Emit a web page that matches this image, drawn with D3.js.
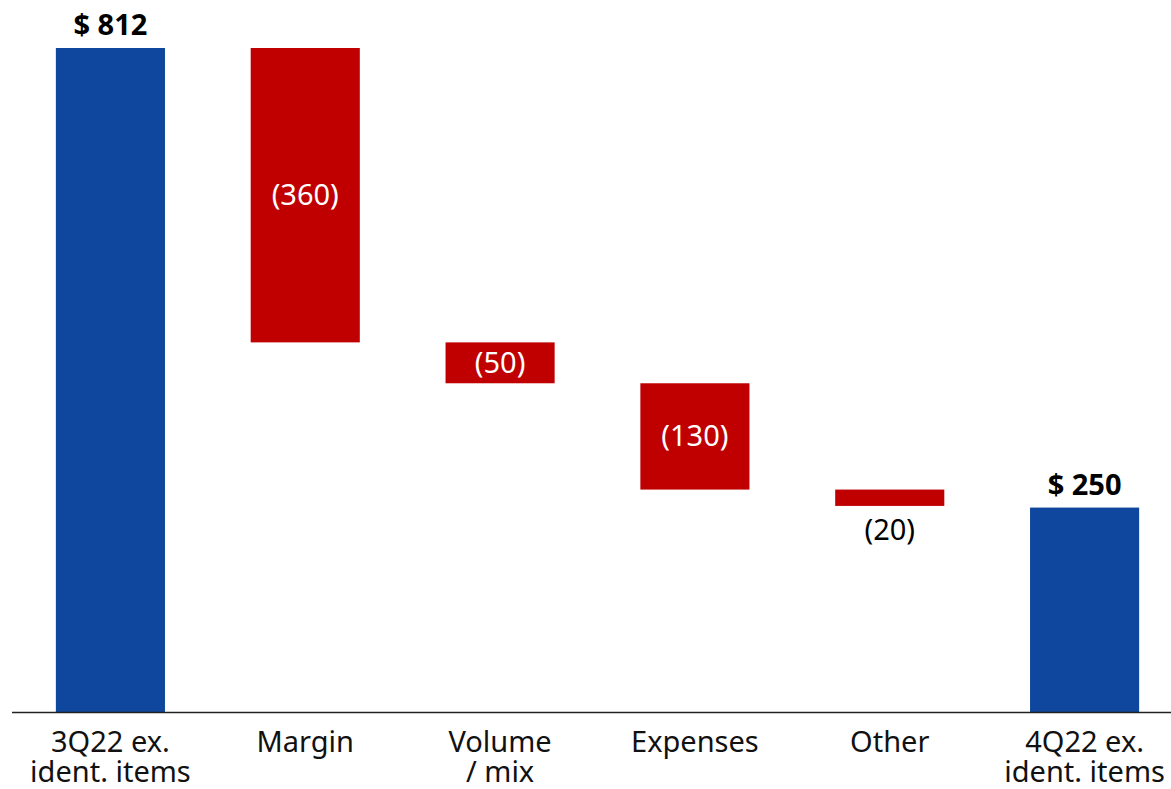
<!DOCTYPE html>
<html>
<head>
<meta charset="utf-8">
<script src="https://cdn.jsdelivr.net/npm/d3@7"></script>
<style>
  html, body { margin: 0; padding: 0; background: #fff; }
  svg { display: block; }
</style>
</head>
<body>
<svg id="chart" width="1171" height="789"></svg>
<script>
// Earnings bridge: 3Q22 to 4Q22, excluding identified items
const categories = ["3Q22 ex.|ident. items", "Margin", "Volume|/ mix", "Expenses", "Other", "4Q22 ex.|ident. items"];
const kinds = ["total", "delta", "delta", "delta", "delta", "total"];
const values = [812, -360, -50, -130, -20, 250];

const W = 1171, H = 789;
const svg = d3.select("#chart");

const BLUE = "#0e479d";
const RED = "#c00000";
const FONT = "'Noto Sans', 'Open Sans', sans-serif";

// Build floating segments
let running = 0;
const bars = categories.map((c, i) => {
  const v = values[i];
  let y0, y1;
  if (kinds[i] === "total") {
    y0 = 0; y1 = v; running = v;
  } else {
    y0 = running; y1 = running + v; running = y1;
  }
  return { cat: c, kind: kinds[i], value: v, lo: Math.min(y0, y1), hi: Math.max(y0, y1) };
});

const x = d3.scaleBand()
  .domain(categories)
  .range([13, 1182])
  .paddingInner(0.44)
  .paddingOuter(0.22);

const y = d3.scaleLinear()
  .domain([0, 812])
  .range([712, 48]);

// Bars
svg.append("g").selectAll("rect")
  .data(bars)
  .join("rect")
  .attr("x", d => x(d.cat))
  .attr("width", x.bandwidth())
  .attr("y", d => y(d.hi))
  .attr("height", d => y(d.lo) - y(d.hi))
  .attr("fill", d => d.kind === "total" ? BLUE : RED);

// Baseline axis
svg.append("line")
  .attr("x1", 12).attr("x2", W)
  .attr("y1", y(0) + 0.5).attr("y2", y(0) + 0.5)
  .attr("stroke", "#222").attr("stroke-width", 1.6);

// Value labels
const fmt = v => v < 0 ? `(${Math.abs(v)})` : `$ ${v}`;
const barH = d => y(d.lo) - y(d.hi);
svg.append("g").selectAll("text")
  .data(bars)
  .join("text")
  .attr("x", d => x(d.cat) + x.bandwidth() / 2)
  .attr("text-anchor", "middle")
  .attr("font-family", FONT)
  .attr("font-size", d => d.kind === "total" ? 29 : 29)
  .attr("font-weight", d => d.kind === "total" ? 700 : 400)
  .attr("fill", d => (d.kind !== "total" && barH(d) > 30) ? "#fff" : "#000")
  .attr("y", d => {
    if (d.kind === "total") return y(d.hi) - 13;
    if (barH(d) > 30) return (y(d.lo) + y(d.hi)) / 2 + 10;
    return y(d.lo) + 34;
  })
  .text(d => fmt(d.value));

// Category labels, one text element per line
const catG = svg.append("g")
  .attr("font-family", FONT)
  .attr("font-size", 29)
  .attr("fill", "#111")
  .attr("text-anchor", "middle");

categories.forEach(c => {
  c.split("|").forEach((line, j) => {
    catG.append("text")
      .attr("x", x(c) + x.bandwidth() / 2)
      .attr("y", 752 + j * 30)
      .text(line);
  });
});
</script>
</body>
</html>
